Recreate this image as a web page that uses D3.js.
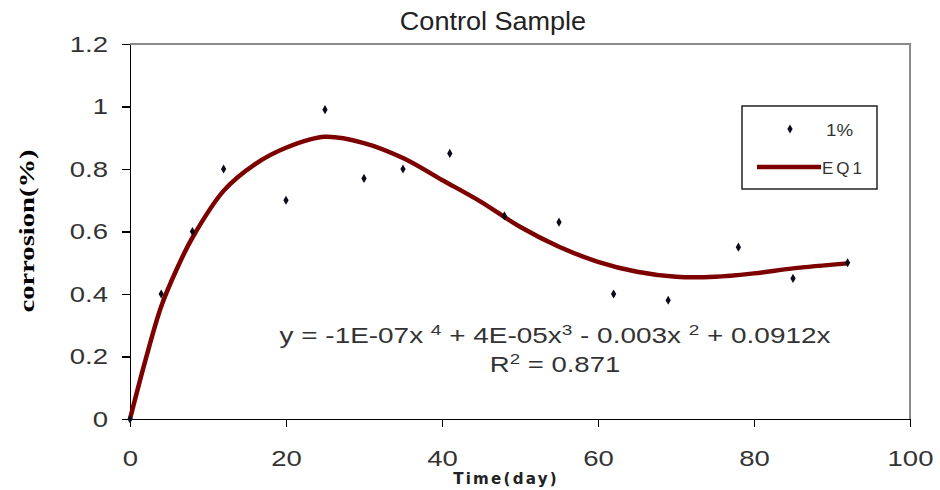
<!DOCTYPE html>
<meta charset="utf-8">
<style>
    body { margin: 0; background: #fff; }
    .axis text { font: 22px "Liberation Sans", Arial, sans-serif; fill: #333; }
    .axis path, .axis line { fill: none; stroke: #000; stroke-width: 1.5; shape-rendering: crispEdges; }
</style>
<svg class="chart"></svg>
<script src="https://d3js.org/d3.v7.min.js"></script>
<script>

    // measured points, "1%" series
    var days = [0, 4, 8, 12, 20, 25, 30, 35, 41, 48, 55, 62, 69, 78, 85, 92];
    var corrosion = [0, 0.40, 0.60, 0.80, 0.70, 0.99, 0.77, 0.80, 0.85, 0.65, 0.63, 0.40, 0.38, 0.55, 0.45, 0.50];

    // trend line EQ1
    var fitDays = [0, 2, 4, 6, 8, 12, 16, 20, 25, 30, 35, 40, 45, 50, 55, 60, 65, 70, 75, 80, 85, 92];
    var fitValues = [0, 0.19, 0.36, 0.48, 0.58, 0.73, 0.815, 0.868, 0.903, 0.883, 0.835, 0.765, 0.695, 0.615, 0.551, 0.503, 0.471, 0.455, 0.455, 0.466, 0.482, 0.498];

    var xTicks = [0, 20, 40, 60, 80, 100];
    var yTicks = [0, 0.2, 0.4, 0.6, 0.8, 1, 1.2];

    var margin = {top: 44, right: 30, bottom: 71, left: 130},
        width = 940 - margin.left - margin.right,
        height = 490 - margin.top - margin.bottom,
        stretch = 1.25;   // the source picture is widened, text included

    var svg = d3.select(".chart")
        .attr("width", 940)
        .attr("height", 490);

    var chart = svg.append("g")
        .attr("transform", "translate(" + margin.left + "," + margin.top + ")");

    var x = d3.scaleLinear().domain([0, 100]).range([0, width]);
    var y = d3.scaleLinear().domain([0, 1.2]).range([height, 0]);

    // frame top / right
    chart.append("path")
        .attr("d", "M0,0H" + width + "V" + height)
        .attr("fill", "none")
        .attr("stroke", "#8a8a8a")
        .attr("stroke-width", 2);

    chart.append("g")
        .attr("class", "x axis")
        .attr("transform", "translate(0," + height + ")")
        .call(d3.axisBottom(x).tickValues(xTicks).tickSize(8).tickSizeOuter(0).tickPadding(23).tickFormat(d3.format("d")))
        .selectAll("text")
        .attr("transform", "scale(" + stretch + ",1)");

    chart.append("g")
        .attr("class", "y axis")
        .call(d3.axisLeft(y).tickValues(yTicks).tickSize(8).tickSizeOuter(0).tickPadding(14).tickFormat(d => d3.format("")(d)))
        .selectAll("text")
        .attr("x", 0)
        .attr("transform", "translate(-22,0) scale(" + stretch + ",1)");

    var line = d3.line()
        .x((d, i) => x(fitDays[i]))
        .y(d => y(d))
        .curve(d3.curveCatmullRom);

    chart.append("path")
        .datum(fitValues)
        .attr("d", line)
        .attr("fill", "none")
        .attr("stroke", "#7d0000")
        .attr("stroke-width", 4.5);

    var marker = d3.symbol().type(d3.symbolDiamond).size(24);

    chart.selectAll(".pt")
        .data(corrosion)
        .enter().append("path")
        .attr("class", "pt")
        .attr("d", marker)
        .attr("fill", "#0a0a1a")
        .attr("transform", (d, i) => "translate(" + x(days[i]) + "," + y(d) + ")");

    // title
    svg.append("text")
        .attr("transform", "translate(493,30) scale(1.04,1)")
        .attr("text-anchor", "middle")
        .style("font", "26px 'Liberation Sans', Arial, sans-serif")
        .attr("fill", "#222")
        .text("Control Sample");

    // axis titles
    svg.append("text")
        .attr("transform", "translate(34,231) rotate(-90) scale(1.3,1)")
        .attr("text-anchor", "middle")
        .style("font", "bold 22px 'Liberation Serif', 'Times New Roman', serif")
        .text("corrosion(%)");

    svg.append("text")
        .attr("transform", "translate(506,484) scale(1.12,1)")
        .attr("text-anchor", "middle")
        .style("font", "bold 15px 'DejaVu Sans Condensed', 'DejaVu Sans', sans-serif")
        .style("letter-spacing", "2px")
        .attr("fill", "#222")
        .text("Time(day)");

    // equation
    var eq = svg.append("text")
        .attr("transform", "translate(555,343) scale(1.27,1)")
        .attr("text-anchor", "middle")
        .style("font", "22px 'Liberation Sans', Arial, sans-serif")
        .attr("fill", "#333");
    var parts = [["y = -1E-07x ", ""], ["4", "sup"], [" + 4E-05x", ""], ["3", "sup"], [" - 0.003x ", ""], ["2", "sup"], [" + 0.0912x", ""]];
    parts.forEach((p, i) => {
        var ts = eq.append("tspan").text(p[0]);
        if (p[1] === "sup") ts.attr("dy", -8).style("font-size", "15px");
        else if (i > 0) ts.attr("dy", 8);
    });

    var r2 = svg.append("text")
        .attr("transform", "translate(555,372) scale(1.25,1)")
        .attr("text-anchor", "middle")
        .style("font", "22px 'Liberation Sans', Arial, sans-serif")
        .attr("fill", "#333");
    r2.append("tspan").text("R");
    r2.append("tspan").attr("dy", -8).style("font-size", "15px").text("2");
    r2.append("tspan").attr("dy", 8).text(" = 0.871");

    // legend
    var lg = svg.append("g").attr("transform", "translate(742,106)");
    lg.append("rect")
        .attr("width", 135).attr("height", 83)
        .attr("fill", "#fff")
        .attr("stroke", "#222")
        .attr("stroke-width", 1.5);
    lg.append("path")
        .attr("d", marker)
        .attr("fill", "#0a0a1a")
        .attr("transform", "translate(48,23)");
    lg.append("text")
        .attr("transform", "translate(84,30) scale(1.1,1)")
        .style("font", "17px 'Liberation Sans', Arial, sans-serif")
        .attr("fill", "#333")
        .text("1%");
    lg.append("line")
        .attr("x1", 15).attr("x2", 79)
        .attr("y1", 61).attr("y2", 61)
        .attr("stroke", "#7d0000")
        .attr("stroke-width", 4.5);
    lg.append("text")
        .attr("x", 80).attr("y", 68)
        .style("font", "17px 'Liberation Sans', Arial, sans-serif")
        .style("letter-spacing", "3px")
        .attr("fill", "#333")
        .text("EQ1");

</script>
